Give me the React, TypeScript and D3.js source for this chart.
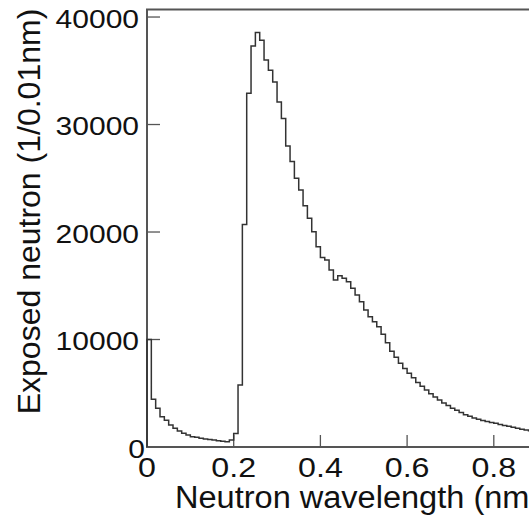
import React, { useEffect, useRef } from "react";
import * as d3 from "d3";

// histogram: neutron counts per 0.01 nm bin, starting at 0 nm
const binWidth = 0.01;
const counts = [
  10000, 4450, 3600, 2820, 2500, 2050, 1740, 1490, 1270, 1110,
  960, 900, 810, 750, 700, 650, 590, 530, 480, 650,
  1250, 5770, 20700, 32900, 37300, 38550, 37850, 36000, 35050, 33950,
  32100, 30550, 28000, 26550, 25000, 23900, 22450, 21270, 20030, 18630,
  17640, 17400, 16470, 15530, 15940, 15690, 15380, 14760, 14140, 13520,
  12740, 12120, 11660, 11190, 10500, 9700, 8900, 8350, 7800, 7300,
  6850, 6450, 6000, 5650, 5300, 4950, 4650, 4380, 4100, 3850,
  3600, 3420, 3200, 3000, 2850, 2700, 2580, 2470, 2380, 2280,
  2200, 2100, 2010, 1920, 1830, 1740, 1660, 1580, 1520, 1450,
];
const xTicks = [0, 0.2, 0.4, 0.6, 0.8];
const yTicks = [0, 10000, 20000, 30000, 40000];
const xTitle = "Neutron wavelength (nm)";
const yTitle = "Exposed neutron (1/0.01nm)";

const FONT = "'Liberation Sans', Arial, Helvetica, sans-serif";

function App() {
  const svgRef = useRef<SVGSVGElement>(null);

  useEffect(() => {
    const width = 529;
    const height = 517;
    const svg = d3.select(svgRef.current);
    svg.selectAll("*").remove();

    const x = d3.scaleLinear().domain([0, 1]).range([147, 580.5]);
    const y = d3.scaleLinear().domain([0, 40700]).range([447, 9.5]);

    // frame (right side falls outside the picture)
    svg
      .append("rect")
      .attr("x", x(0))
      .attr("y", y(40700))
      .attr("width", x(1) - x(0))
      .attr("height", y(0) - y(40700))
      .attr("fill", "none")
      .attr("stroke", "#555")
      .attr("stroke-width", 2);

    // ticks, drawn inside the frame
    svg
      .selectAll(".ytick")
      .data(yTicks)
      .join("line")
      .attr("class", "ytick")
      .attr("x1", x(0))
      .attr("x2", x(0) + 13)
      .attr("y1", (d) => y(d))
      .attr("y2", (d) => y(d))
      .attr("stroke", "#555")
      .attr("stroke-width", 1.3);

    svg
      .selectAll(".xtick")
      .data(xTicks)
      .join("line")
      .attr("class", "xtick")
      .attr("x1", (d) => x(d))
      .attr("x2", (d) => x(d))
      .attr("y1", y(0))
      .attr("y2", y(0) - 12)
      .attr("stroke", "#555")
      .attr("stroke-width", 1.3);

    // histogram outline
    const pts: [number, number][] = [[0, 0]];
    counts.forEach((c, i) => pts.push([i * binWidth, c]));
    pts.push([counts.length * binWidth, counts[counts.length - 1]]);
    const line = d3
      .line<[number, number]>()
      .x((d) => x(d[0]))
      .y((d) => y(d[1]))
      .curve(d3.curveStepAfter);
    svg
      .append("path")
      .attr("d", line(pts))
      .attr("fill", "none")
      .attr("stroke", "#333")
      .attr("stroke-width", 1.5);

    // tick labels
    svg
      .selectAll(".ylab")
      .data(yTicks)
      .join("text")
      .attr("class", "ylab")
      .attr("transform", (d) => `translate(${d === 0 ? 145 : 139},${y(d) + 10.5}) scale(1.2,1)`)
      .attr("text-anchor", "end")
      .style("font-family", FONT)
      .style("font-size", "25px")
      .style("fill", "#111")
      .text((d) => d3.format("d")(d));

    svg
      .selectAll(".xlab")
      .data(xTicks)
      .join("text")
      .attr("class", "xlab")
      .attr("transform", (d) => `translate(${x(d)},477) scale(1.15,1)`)
      .attr("text-anchor", "middle")
      .style("font-family", FONT)
      .style("font-size", "28px")
      .style("fill", "#111")
      .text((d) => (d === 0 ? "0" : d3.format(".1f")(d)));

    // axis titles
    svg
      .append("text")
      .attr("transform", "translate(175,508) scale(1.05,1)")
      .style("font-family", FONT)
      .style("font-size", "31px")
      .style("fill", "#111")
      .text(xTitle);

    svg
      .append("text")
      .attr("transform", `translate(40,${211.5}) rotate(-90)`)
      .attr("text-anchor", "middle")
      .style("font-family", FONT)
      .style("font-size", "32px")
      .style("fill", "#111")
      .text(yTitle);

    svg.attr("width", width).attr("height", height);
  }, []);

  return (
    <div style={{ position: "fixed", left: 0, top: 0, background: "white" }}>
      <svg ref={svgRef} width={529} height={517} style={{ display: "block", overflow: "hidden" }} />
    </div>
  );
}

export default App;
